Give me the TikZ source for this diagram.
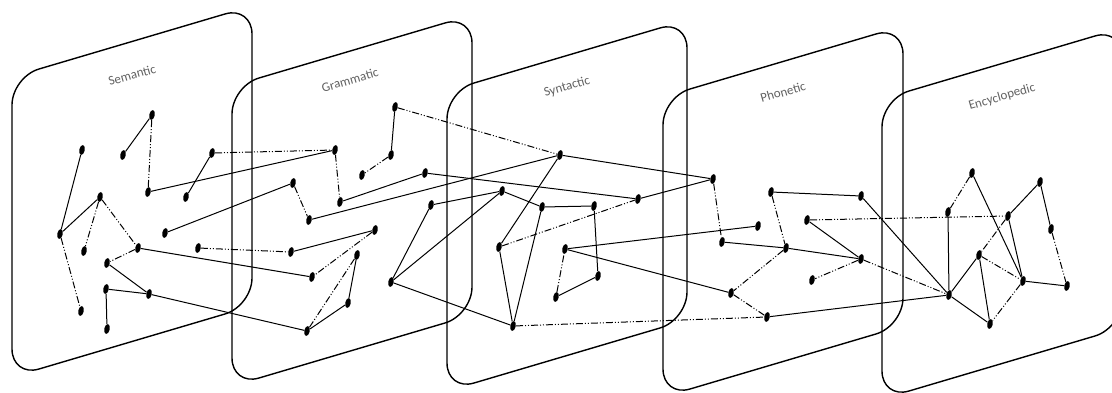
\documentclass[tikz,border=0pt]{standalone}
\usepackage{fontspec}
\setmainfont{Carlito}
\usetikzlibrary{shapes.geometric}
\begin{document}
\begin{tikzpicture}[x=1pt,y=-1pt,
  plane/.style={draw=black,line width=1.4pt,rounded corners=28pt},
  lbl/.style={text=black!62,font=\fontsize{13}{15}\selectfont,rotate=16,inner sep=0pt},
  dot/.style={ellipse,fill=black,inner sep=0pt,minimum width=5.5pt,minimum height=10pt,rotate=-12},
  sl/.style={line width=1pt},
  dd/.style={line width=1pt,dash pattern=on 7pt off 2pt on 1pt off 2pt on 1pt off 2pt}]
\useasboundingbox (0,0) rectangle (1112,393);
% planes
\foreach \L/\T in {12/77,232/86,447/91,663/97,882/99}{
  \draw[plane] (\L,\T) -- (\L+240,\T-71) -- (\L+240,\T+229) -- (\L,\T+300) -- cycle;
}
\node[lbl] (lS) at (132,75) {Semantic};
\node[lbl] (lG) at (350,80) {Grammatic};
\node[lbl] (lY) at (567,87) {Syntactic};
\node[lbl] (lP) at (783,92) {Phonetic};
\node[lbl] (lE) at (1002,97) {Encyclopedic};
% nodes
\foreach \n/\x/\y in {S1/152/115,S2/123/155,S3/82/150,S4/148/192,S5/212/153,S6/186/197,S7/100/197,S8/60/234,S9/165/233,S10/84/251,S11/138/248,S12/198/248,S13/107/263,S14/106/289,S15/149/294,S16/81/311,S17/107/329,
G1/395/107,G2/391/155,G3/362/175,G4/335/150,G5/340/202,G6/425/173,G7/293/183,G8/309/220,G9/375/230,G10/291/252,G11/357/255,G12/312/277,G13/348/303,G14/307/331,G15/431/205,G16/391/282,
Y1/560/155,Y2/502/191,Y3/542/207,Y4/594/206,Y5/638/199,Y6/499/247,Y7/565/249,Y8/598/276,Y9/556/297,Y10/513/326,
P1/713/179,P2/771/192,P3/861/196,P4/807/220,P5/758/226,P6/722/242,P7/786/248,P8/861/259,P9/812/280,P10/731/293,P11/767/317,
E1/972/173,E2/948/212,E3/1040/182,E4/1008/216,E5/1051/229,E6/979/255,E7/1023/281,E8/1067/286,E9/949/295,E10/990/324}{
  \node[dot] (\n) at (\x,\y) {};
}
% solid connectors
\foreach \a/\b in {S1/S2,S3/S8,S8/S7,S5/S6,S4/G4,S9/G7,S13/S15,S14/S15,S14/S17,S11/G12,S15/G14,
G1/G2,G5/G6,G6/Y5,G8/Y1,G10/G9,G11/G13,G13/G14,G15/G16,G15/Y2,G16/Y2,G16/Y10,
Y1/Y6,Y1/P1,Y5/P1,Y2/Y3,Y3/Y4,Y3/Y10,Y6/Y10,Y4/Y8,Y8/Y9,Y7/P5,Y7/P10,
P6/P7,P7/P8,P2/P3,P4/P8,P3/E9,P11/E9,
E1/E7,E2/E9,E3/E4,E3/E5,E4/E7,E6/E9,E6/E10,E7/E8,E9/E10}{
  \draw[sl] (\a) -- (\b);
}
% dash-dot-dot connectors
\foreach \a/\b in {S1/S4,S5/G4,S8/S16,S7/S10,S7/S11,S11/S13,S12/G10,
G1/Y1,G2/G3,G4/G5,G7/G8,G9/G12,G11/G14,
Y6/Y5,Y9/Y7,Y10/P11,
P1/P6,P2/P7,P7/P10,P10/P11,P8/P9,P4/E4,P8/E9,
E1/E2,E5/E8,E4/E6,E6/E7,E7/E10}{
  \draw[dd] (\a) -- (\b);
}
\end{tikzpicture}
\end{document}
